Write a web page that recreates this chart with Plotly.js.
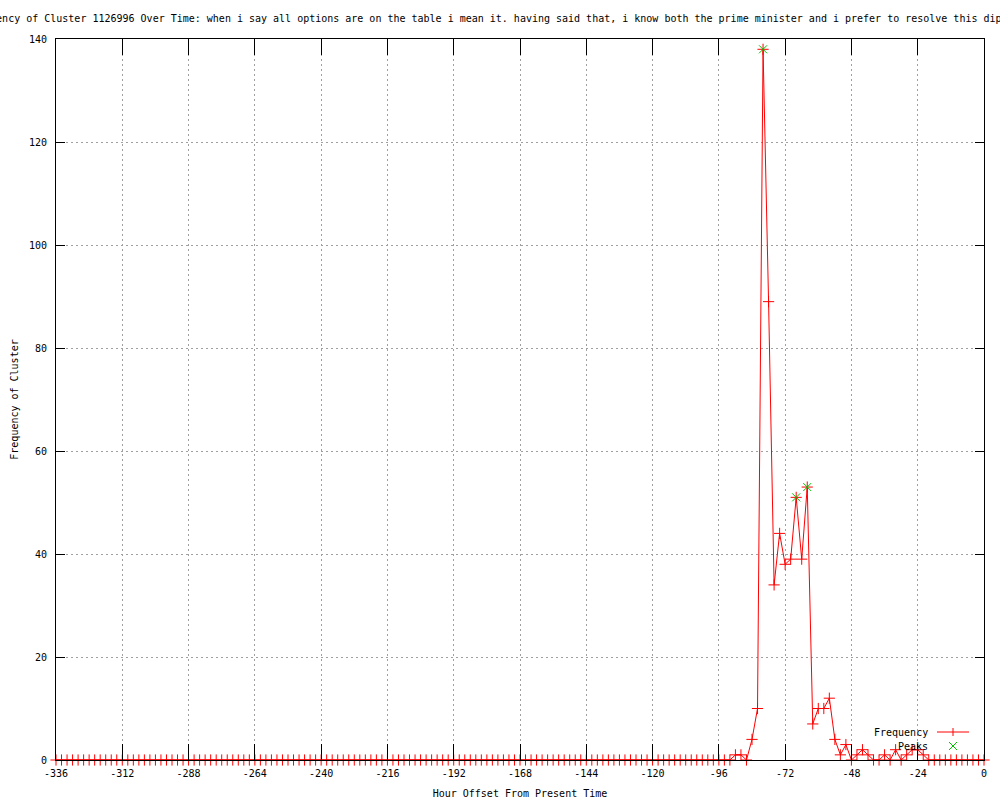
<!DOCTYPE html>
<html>
<head>
<meta charset="utf-8">
<script src="https://cdn.plot.ly/plotly-3.0.1.min.js"></script>
<style>
  html, body { margin: 0; padding: 0; background: #fff; }
  #chart { width: 1000px; height: 800px; }
</style>
</head>
<body>
<div id="chart"></div>
<script>
// Hour offsets (every 2 hours)
const hours = [
  -336,-334,-332,-330,-328,-326,-324,-322,-320,-318,-316,-314,
  -312,-310,-308,-306,-304,-302,-300,-298,-296,-294,-292,-290,
  -288,-286,-284,-282,-280,-278,-276,-274,-272,-270,-268,-266,
  -264,-262,-260,-258,-256,-254,-252,-250,-248,-246,-244,-242,
  -240,-238,-236,-234,-232,-230,-228,-226,-224,-222,-220,-218,
  -216,-214,-212,-210,-208,-206,-204,-202,-200,-198,-196,-194,
  -192,-190,-188,-186,-184,-182,-180,-178,-176,-174,-172,-170,
  -168,-166,-164,-162,-160,-158,-156,-154,-152,-150,-148,-146,
  -144,-142,-140,-138,-136,-134,-132,-130,-128,-126,-124,-122,
  -120,-118,-116,-114,-112,-110,-108,-106,-104,-102,-100,-98,
  -96,-94,-92,-90,-88,-86,-84,-82,-80,-78,-76,-74,
  -72,-70,-68,-66,-64,-62,-60,-58,-56,-54,-52,-50,
  -48,-46,-44,-42,-40,-38,-36,-34,-32,-30,-28,-26,
  -24,-22,-20,-18,-16,-14,-12,-10,-8,-6,-4,-2,
  0
];
// Frequency of cluster at each offset
const frequency = [
  0,0,0,0,0,0,0,0,0,0,0,0,
  0,0,0,0,0,0,0,0,0,0,0,0,
  0,0,0,0,0,0,0,0,0,0,0,0,
  0,0,0,0,0,0,0,0,0,0,0,0,
  0,0,0,0,0,0,0,0,0,0,0,0,
  0,0,0,0,0,0,0,0,0,0,0,0,
  0,0,0,0,0,0,0,0,0,0,0,0,
  0,0,0,0,0,0,0,0,0,0,0,0,
  0,0,0,0,0,0,0,0,0,0,0,0,
  0,0,0,0,0,0,0,0,0,0,0,0,
  0,0,0,1,1,0,4,10,138,89,34,44,
  38,39,51,39,53,7,10,10,12,4,1,3,
  0,1,2,1,0,0,1,0,2,0,1,2,
  2,1,0,0,0,0,0,0,0,0,0,0,
  0
];
// Peaks
const peakHours = [-80, -68, -64];
const peakValues = [138, 51, 53];

const xTicks = [-336,-312,-288,-264,-240,-216,-192,-168,-144,-120,-96,-72,-48,-24,0];
const yTicks = [0,20,40,60,80,100,120,140];

const titleText = "Frequency of Cluster 1126996 Over Time: when i say all options are on the table i mean it. having said that, i know both the prime minister and i prefer to resolve this diplomatically.";
const xTitle = "Hour Offset From Present Time";
const yTitle = "Frequency of Cluster";

const FONT = "DejaVu Sans Mono, monospace";
const RED = "#ff0000";
const GREEN = "#00c000";

// plot-area geometry helpers for legend decorations (paper coords)
const L = 56, R = 984, T = 39, B = 760;
const px = v => (v - L) / (R - L);
const py = v => (B - v) / (B - T);

const traces = [
  {
    x: hours, y: frequency, type: "scatter", mode: "lines+markers",
    name: "Frequency",
    line: { color: RED, width: 1 },
    marker: { symbol: "cross-thin-open", size: 8, color: RED, line: { color: RED, width: 1 } },
    cliponaxis: false, showlegend: false
  },
  {
    x: peakHours, y: peakValues, type: "scatter", mode: "markers",
    name: "Peaks",
    marker: { symbol: "x-thin-open", size: 8, color: GREEN, line: { color: GREEN, width: 1 } },
    cliponaxis: false, showlegend: false
  }
];

const axisCommon = {
  showline: true, linecolor: "#000", linewidth: 1, mirror: "ticks",
  ticks: "inside", tickcolor: "#000", tickwidth: 1,
  showgrid: true, gridcolor: "#a0a0a0", griddash: "2px,3px", gridwidth: 1,
  zeroline: false, tickfont: { family: FONT, size: 10, color: "#000" },
  automargin: false, layer: "above traces"
};

const layout = {
  width: 1000, height: 800,
  paper_bgcolor: "#fff", plot_bgcolor: "#fff",
  margin: { l: L, r: 1000 - R, t: T, b: 800 - B },
  showlegend: false,
  xaxis: Object.assign({}, axisCommon, {
    range: [-336, 0], tickvals: xTicks, ticktext: xTicks.map(String), ticklen: 16,
    ticklabelstandoff: 4,
    title: { text: xTitle, font: { family: FONT, size: 10, color: "#000" }, standoff: 11 }
  }),
  yaxis: Object.assign({}, axisCommon, {
    range: [0, 140], tickvals: yTicks, ticktext: yTicks.map(String), ticklen: 9,
    ticklabelstandoff: 6,
    title: { text: yTitle, font: { family: FONT, size: 10, color: "#000" }, standoff: 8 }
  }),
  annotations: [
    { text: titleText, xref: "paper", yref: "paper", x: px(-36), y: py(18),
      xanchor: "left", yanchor: "middle", showarrow: false,
      font: { family: FONT, size: 10, color: "#000" } },
    { text: "Frequency", xref: "paper", yref: "paper", x: px(930), y: py(732),
      xanchor: "right", yanchor: "middle", showarrow: false,
      font: { family: FONT, size: 10, color: "#000" } },
    { text: "Peaks", xref: "paper", yref: "paper", x: px(930), y: py(746),
      xanchor: "right", yanchor: "middle", showarrow: false,
      font: { family: FONT, size: 10, color: "#000" } }
  ],
  shapes: [
    { type: "line", xref: "paper", yref: "paper", x0: px(937), x1: px(969), y0: py(732), y1: py(732), line: { color: RED, width: 1 } },
    { type: "line", xref: "paper", yref: "paper", x0: px(953), x1: px(953), y0: py(728), y1: py(736), line: { color: RED, width: 1 } },
    { type: "line", xref: "paper", yref: "paper", x0: px(949), x1: px(957), y0: py(742), y1: py(750), line: { color: GREEN, width: 1 } },
    { type: "line", xref: "paper", yref: "paper", x0: px(949), x1: px(957), y0: py(750), y1: py(742), line: { color: GREEN, width: 1 } }
  ]
};

Plotly.newPlot("chart", traces, layout, { displayModeBar: false, staticPlot: true });
</script>
</body>
</html>
